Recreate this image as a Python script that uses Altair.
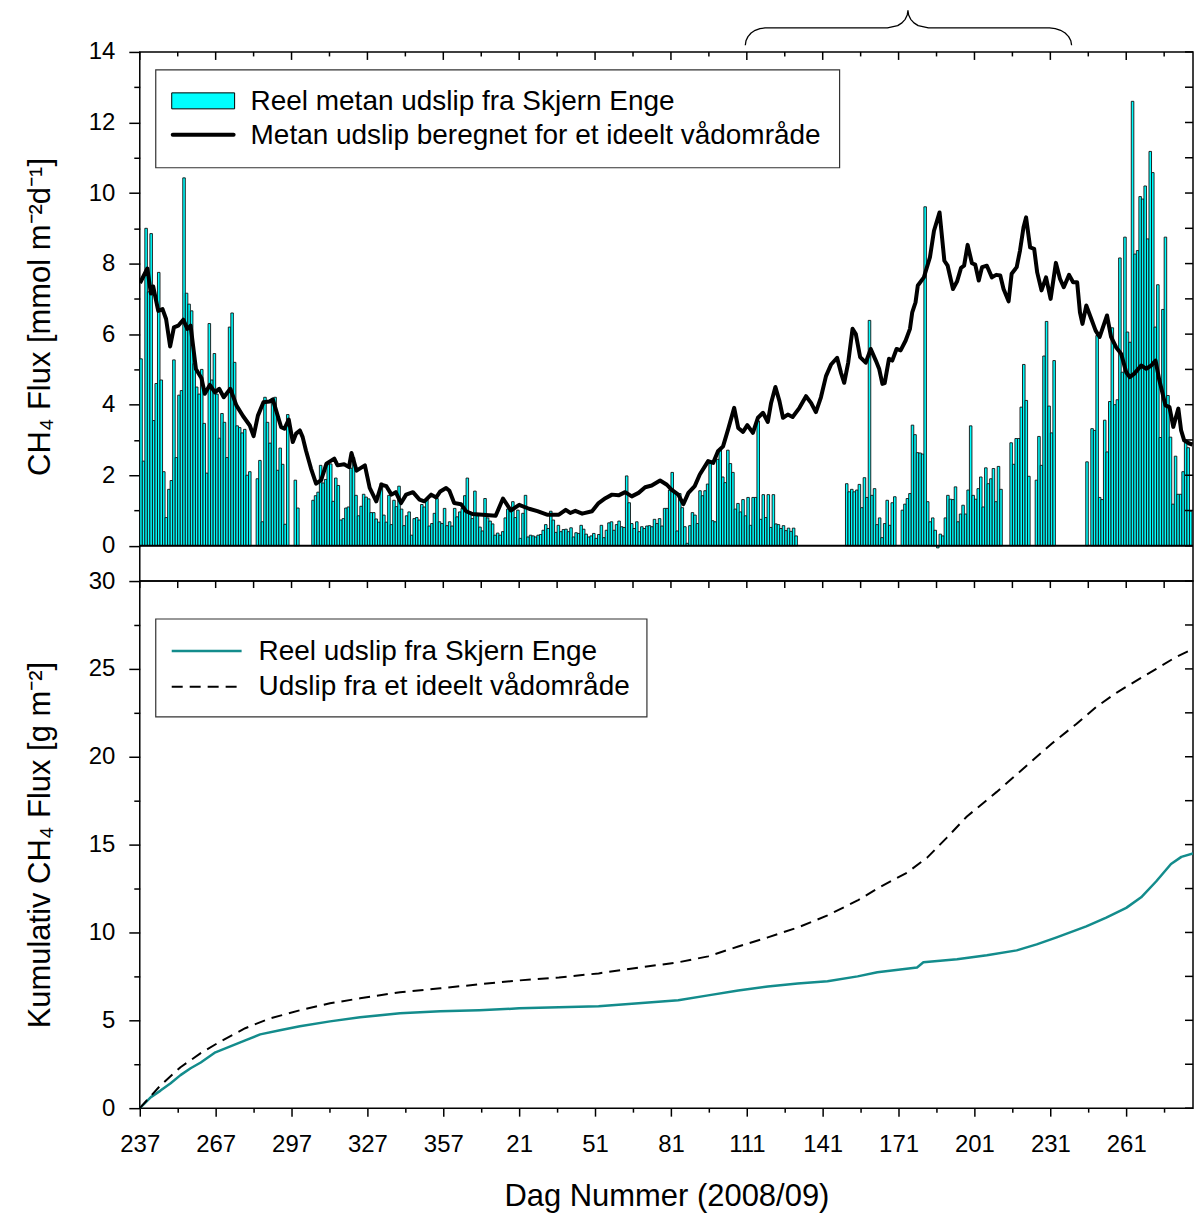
import altair as alt
import pandas as pd

FONT = "Liberation Sans"

# ---------------- data ----------------
# day index 0 = day 237 of 2008 ; 2008 is a leap year
x_tick_major = [0, 30, 60, 90, 120, 150, 180, 210, 240, 270, 300, 330, 360, 390]
x_tick_labels = ["237", "267", "297", "327", "357", "21", "51", "81", "111",
                 "141", "171", "201", "231", "261"]
x_tick_minor = [15, 45, 75, 105, 135, 165, 195, 225, 255, 285, 315, 345, 375, 405]

# daily measured CH4 flux (mmol m-2 d-1), contiguous runs of days
seg_start = [0, 46, 61, 68, 85, 163, 245, 279, 301, 344, 354, 374, 376]
seg_values = [
    [5.3, 2.4, 9.0, 7.2, 8.85, 3.55, 4.6, 7.75, 4.7, 2.1, 0.8, 1.6, 1.85, 5.27, 2.5,
     4.27, 4.4, 10.43, 7.16, 6.85, 6.66, 5.16, 4.5, 4.3, 5.0, 3.47, 2.06, 6.3, 4.7,
     5.45, 4.3, 3.05, 3.75, 3.5, 2.5, 6.2, 6.6, 5.2, 3.4, 3.35, 3.2, 3.3, 2.0, 2.1],
    [1.9, 2.42, 0.68, 4.21, 3.5, 2.91, 4.15, 4.21, 2.14, 2.77, 2.31, 0.61, 3.72],
    [1.86, 1.07],
    [1.29, 1.42, 1.52, 2.28, 1.78, 1.88, 2.3, 2.32, 1.26, 1.92, 1.71, 0.73, 0.77,
     1.07, 1.1, 2.2, 2.5],
    [1.43, 0.85, 1.12, 1.46, 1.38, 1.33, 0.94, 0.94, 0.76, 0.67, 1.78, 0.87, 0.67,
     1.43, 0.6, 1.29, 1.11, 1.69, 1.04, 0.57, 0.85, 0.96, 0.3, 0.77, 0.8, 0.73,
     1.17, 1.1, 1.31, 0.56, 0.63, 0.92, 1.34, 0.68, 0.63, 1.06, 0.57, 0.68, 0.56,
     1.06, 0.82, 0.96, 1.06, 1.42, 1.92, 0.96, 0.77, 1.55, 0.85, 0.53, 0.42, 1.34,
     0.79, 0.7, 0.62, 0.3, 0.36, 0.3, 0.4, 0.79, 1.04, 0.99, 1.25, 0.8, 1.01, 0.21,
     0.92, 1.43, 0.25, 0.3, 0.28, 0.25, 0.3, 0.32, 0.44, 0.6, 0.49, 0.98],
    [0.73, 0.38, 0.58, 0.4, 0.46, 0.47, 0.4, 0.51, 0.25, 0.37, 0.35, 0.58, 0.47,
     0.33, 0.25, 0.28, 0.35, 0.21, 0.32, 0.58, 0.23, 0.44, 0.65, 0.68, 0.44, 0.6,
     0.7, 0.54, 0.52, 1.98, 1.22, 0.63, 0.49, 0.68, 0.4, 0.54, 0.49, 0.56, 0.57,
     0.54, 0.75, 0.63, 0.77, 0.56, 1.06, 1.06, 1.58, 2.08, 1.53, 0.42, 1.48, 1.08,
     0.54, 0.07, 0.57, 0.94, 0.87, 0.63, 1.56, 1.42, 1.56, 1.75, 2.33, 0.71, 0.68,
     2.45, 2.75, 1.95, 1.79, 2.71, 2.33, 2.08, 1.04, 1.2, 0.96, 1.31, 0.85, 1.37,
     0.58, 1.37, 1.37, 3.54],
    [0.75, 1.45, 0.8, 1.45, 0.52, 1.45, 0.62, 0.6, 0.49, 0.57, 0.43, 0.5, 0.41,
     0.5, 0.28],
    [1.76, 1.53, 1.6, 1.53, 1.58, 1.74, 1.08, 1.93, 1.37, 6.39, 1.43, 1.62, 0.6,
     0.79, 0.23, 0.63, 1.29, 0.58, 1.22, 1.39],
    [1.01, 1.18, 1.34, 1.48, 3.42, 3.15, 2.64, 2.63, 2.6, 9.61, 1.25, 0.68, 0.79,
     0.44, -0.06, 0.33, 0.28, 0.79, 1.43, 1.32, 1.31, 1.67, 0.68, 0.9, 1.15, 0.9,
     1.58, 3.4, 1.43, 1.32, 1.62, 1.95, 1.1, 2.21, 1.76, 1.9, 2.19, 1.25, 2.25, 1.6],
    [2.92, 2.31, 3.04, 3.04, 3.93, 5.14, 4.12, 1.97],
    [1.86, 3.1, 2.28, 5.38, 6.36, 3.96, 3.2, 5.25],
    [2.38],
    [3.32, 3.27, 5.96, 1.37, 1.31, 3.56, 2.66, 4.09, 6.18, 4.0, 4.14, 8.16, 4.92,
     8.75, 6.06, 5.77, 12.6, 8.27, 8.37, 9.9, 9.83, 10.2, 8.7, 11.18, 10.58, 6.2,
     7.4, 3.07, 6.7, 8.75, 4.26, 3.08, 1.18, 2.54, 1.46, 1.46, 2.1, 2.94, 2.78, 0.98],
]

# modelled flux of an ideal wetland (mmol m-2 d-1)
ideal_day = [0.1, 3.0, 4.4, 5.3, 7.3, 9.0, 10.4, 12.0, 13.5, 15.2, 17.2, 18.8, 20.1,
             22.2, 24.4, 25.7, 27.7, 29.7, 31.4, 33.2, 35.8, 38.2, 40.8, 43.5, 45.0,
             46.7, 48.9, 51.3, 52.6, 54.1, 55.9, 57.2, 58.9, 60.5, 61.8, 63.3, 64.4,
             65.7, 67.7, 69.7, 71.7, 73.8, 76.9, 78.2, 80.8, 82.7, 83.7, 85.7, 89.0,
             90.9, 93.5, 95.5, 97.5, 99.5, 101.2, 103.3, 105.3, 108.0, 110.6, 112.5,
             115.2, 117.2, 118.8, 121.1, 122.4, 124.3, 127.0, 129.0, 131.5, 135.5,
             140.7, 143.6, 146.7, 150.0, 153.9, 157.2, 161.0, 165.7, 168.4, 170.2,
             172.2, 174.9, 178.8, 181.4, 184.1, 186.7, 189.3, 191.9, 194.5, 197.2,
             199.8, 202.4, 205.7, 208.4, 210.2, 212.9, 214.9, 216.9, 219.4, 221.4,
             224.7, 226.7, 228.6, 230.6, 232.6, 235.0, 236.6, 238.5, 240.2, 242.4,
             244.4, 246.4, 248.3, 249.6, 251.3, 252.9, 254.3, 256.2, 258.1, 260.8,
             263.4, 265.4, 267.3, 269.3, 271.3, 273.3, 275.7, 277.2, 278.5, 280.1,
             281.8, 283.1, 284.8, 287.0, 289.0, 291.0, 292.3, 293.6, 294.5, 296.2,
             297.5, 299.2, 300.8, 302.8, 304.5, 305.4, 306.7, 307.6, 310.0, 312.4,
             314.0, 316.2, 318.1, 319.4, 321.5, 323.1, 324.7, 325.9, 327.3, 329.0,
             330.3, 331.7, 333.0, 334.9, 336.9, 338.6, 340.2, 341.5, 343.5, 344.7,
             346.7, 348.0, 349.4, 350.4, 352.0, 353.6, 354.8, 356.5, 358.3, 360.1,
             362.2, 363.8, 365.3, 367.4, 369.0, 370.6, 371.7, 372.7, 374.2, 376.2,
             377.9, 379.5, 382.4, 384.0, 386.0, 388.0, 390.0, 391.4, 393.2, 395.9,
             397.9, 399.9, 401.6, 403.1, 405.5, 407.1, 408.6, 410.6, 411.7, 412.9,
             414.9, 416.2]
ideal_flux = [7.45, 7.86, 7.15, 7.35, 6.66, 6.71, 6.43, 5.65, 6.19, 6.24, 6.41, 6.15,
              6.24, 5.01, 4.75, 4.31, 4.56, 4.35, 4.45, 4.21, 4.45, 3.98, 3.68, 3.41,
              3.11, 3.69, 4.07, 4.09, 4.15, 3.79, 3.36, 3.32, 3.58, 2.94, 3.18, 3.27,
              3.08, 2.7, 2.19, 1.76, 1.86, 2.33, 2.47, 2.28, 2.31, 2.23, 2.63, 2.13,
              2.28, 1.64, 1.26, 1.73, 1.69, 1.45, 1.52, 1.21, 1.45, 1.52, 1.31, 1.26,
              1.45, 1.37, 1.54, 1.64, 1.56, 1.21, 1.18, 0.98, 0.9, 0.88, 0.85, 1.34,
              1.0, 1.16, 1.05, 0.98, 0.88, 0.88, 1.02, 0.93, 0.99, 0.91, 0.98, 1.21,
              1.35, 1.45, 1.43, 1.52, 1.4, 1.5, 1.66, 1.71, 1.85, 1.73, 1.59, 1.45,
              1.18, 1.5, 1.69, 2.02, 2.4, 2.35, 2.68, 2.82, 3.3, 3.91, 3.34, 3.23,
              3.42, 3.2, 3.63, 3.77, 3.51, 4.05, 4.5, 4.1, 3.63, 3.72, 3.65, 3.91,
              4.24, 4.05, 3.79, 4.21, 4.81, 5.14, 5.33, 4.91, 4.62, 5.2, 6.15, 6.0,
              5.35, 5.19, 5.58, 5.25, 5.02, 4.59, 4.61, 5.3, 5.25, 5.58, 5.54, 5.82,
              6.15, 6.62, 6.9, 7.38, 7.61, 8.18, 8.93, 9.45, 8.08, 7.94, 7.28, 7.49,
              7.88, 7.94, 8.53, 8.01, 7.97, 7.52, 7.9, 7.94, 7.61, 7.68, 7.66, 7.28,
              6.93, 7.71, 7.9, 8.37, 9.03, 9.31, 8.46, 8.42, 7.75, 7.24, 7.61, 7.0,
              8.02, 7.57, 7.33, 7.68, 7.47, 7.47, 6.62, 6.29, 6.81, 6.43, 6.1, 5.92,
              6.53, 5.92, 5.63, 5.44, 4.92, 4.78, 4.88, 5.11, 5.02, 5.11, 5.25, 4.69,
              3.98, 3.93, 3.37, 3.89, 3.27, 2.99, 2.9, 2.87]

# cumulative fluxes (g m-2)
cum_real_day = [0, 4.4, 8.2, 12.2, 16.1, 20.1, 24.1, 29.9, 35.8, 41.7, 47.6, 55.4,
                63.3, 75.2, 87.1, 102.9, 118.8, 134.2, 150.0, 165.7, 181.4, 197.2,
                212.9, 224.7, 236.6, 248.3, 260.1, 271.9, 283.8, 291.6, 307.3, 309.8,
                323.1, 334.9, 346.7, 354.6, 362.5, 374.2, 382.1, 390.0, 395.9, 401.8,
                407.7, 411.8, 416.4]
cum_real_val = [0, 0.63, 1.0, 1.42, 1.88, 2.27, 2.6, 3.18, 3.52, 3.86, 4.2, 4.43,
                4.66, 4.94, 5.17, 5.4, 5.51, 5.57, 5.68, 5.74, 5.8, 5.97, 6.14, 6.42,
                6.7, 6.93, 7.1, 7.22, 7.5, 7.73, 8.01, 8.3, 8.47, 8.7, 8.98, 9.32,
                9.72, 10.35, 10.85, 11.4, 12.0, 12.9, 13.9, 14.3, 14.5]
cum_ideal_day = [0, 8.2, 16.1, 24.1, 31.9, 41.7, 51.5, 63.3, 75.2, 87.1, 102.9,
                 118.8, 134.2, 150.0, 165.7, 181.4, 197.2, 212.9, 224.7, 236.6,
                 248.3, 260.1, 271.9, 283.8, 291.6, 303.4, 311.3, 319.1, 327.0,
                 338.8, 350.7, 360.5, 370.4, 378.2, 386.1, 393.9, 401.9, 409.7, 416.4]
cum_ideal_val = [0, 1.3, 2.33, 3.13, 3.8, 4.55, 5.11, 5.57, 5.97, 6.25, 6.6, 6.82,
                 7.05, 7.27, 7.44, 7.67, 8.0, 8.3, 8.64, 9.2, 9.72, 10.28, 10.97,
                 11.82, 12.5, 13.41, 14.26, 15.4, 16.6, 18.0, 19.5, 20.74, 21.88,
                 22.84, 23.64, 24.32, 25.0, 25.68, 26.14]

# curly brace annotation above the top panel (day index, flux units)
brace_day = [239.4, 239.67, 240.45, 241.68, 243.3, 245.18, 247.2,
             295.6, 299.65, 301.33, 302.6, 303.42, 303.7,
             303.98, 304.8, 306.07, 307.75, 311.8,
             359.7, 361.95, 364.05, 365.85, 367.23, 368.1, 368.4]
brace_val = [14.19, 14.317, 14.435, 14.536, 14.614, 14.663, 14.68,
             14.68, 14.746, 14.824, 14.925, 15.05, 15.17,
             15.05, 14.925, 14.824, 14.746, 14.68,
             14.68, 14.663, 14.614, 14.536, 14.435, 14.317, 14.19]

legend_top = ["Reel metan udslip fra Skjern Enge",
              "Metan udslip beregnet for et ideelt vådområde"]
legend_bottom = ["Reel udslip fra Skjern Enge", "Udslip fra et ideelt vådområde"]

y_top_ticks = list(range(0, 15))
y_bot_ticks = [0, 2.5, 5, 7.5, 10, 12.5, 15, 17.5, 20, 22.5, 25, 27.5, 30]

# ---------------- tables ----------------
rows = []
for s, vals in zip(seg_start, seg_values):
    for k, v in enumerate(vals):
        rows.append({"start": s + k, "end": s + k + 1, "flux": v})
df_bars = pd.DataFrame(rows)
df_ideal = pd.DataFrame({"day": ideal_day, "flux": ideal_flux})
df_cum_real = pd.DataFrame({"day": cum_real_day, "cum": cum_real_val})
df_cum_ideal = pd.DataFrame({"day": cum_ideal_day, "cum": cum_ideal_val})
df_brace = pd.DataFrame({"day": brace_day, "flux": brace_val, "o": list(range(len(brace_day)))})
df_xmaj = pd.DataFrame({"day": x_tick_major})
df_xmin = pd.DataFrame({"day": x_tick_minor})
df_ytop = pd.DataFrame({"flux": y_top_ticks})
df_ybot = pd.DataFrame({"cum": y_bot_ticks})
one = pd.DataFrame({"a": [0]})

# ---------------- layout ----------------
W, H1, H2 = 1055, 530, 528
X_MAX = 416.4
TEAL = "#138C8C"
CYAN = "#00FFFF"

xs = alt.Scale(domain=[0, X_MAX], nice=False, zero=False)
ys1 = alt.Scale(domain=[-1, 14], nice=False, zero=False)
ys2 = alt.Scale(domain=[0, 30], nice=False, zero=False)

common_axis = dict(grid=False, domain=False, tickColor="black", tickWidth=1.5,
                   labelFont=FONT, labelFontSize=24, labelColor="black",
                   titleFont=FONT, titleFontSize=31, titleFontWeight="normal",
                   titleColor="black")

y1_axis = alt.Axis(values=y_top_ticks,
                   tickSize={"condition": {"test": "datum.value % 2 === 0", "value": 11}, "value": 6},
                   labelExpr="datum.value % 2 === 0 ? datum.label : ''",
                   labelPadding=14,
                   title="CH₄ Flux [mmol m⁻²d⁻¹]",
                   titleX=-99, titleY=H1 / 2, titleAlign="center", titleBaseline="middle",
                   **common_axis)
y2_axis = alt.Axis(values=y_bot_ticks,
                   tickSize={"condition": {"test": "datum.value % 5 === 0", "value": 11}, "value": 6},
                   labelExpr="datum.value % 5 === 0 ? datum.label : ''",
                   labelPadding=14,
                   title="Kumulativ CH₄ Flux [g m⁻²]",
                   titleX=-99, titleY=H2 / 2, titleAlign="center", titleBaseline="middle",
                   **common_axis)

label_expr = ""
for p, lab in zip(x_tick_major, x_tick_labels):
    label_expr += f"datum.value === {p} ? '{lab}' : "
label_expr += "''"

x_axis = alt.Axis(values=sorted(x_tick_major + x_tick_minor),
                  tickSize={"condition": {"test": "datum.value % 30 === 0", "value": 8}, "value": 4},
                  labelExpr=label_expr, labelFlush=False, labelPadding=16,
                  title="Dag Nummer (2008/09)", titleY=89, titleBaseline="middle",
                  **common_axis)


def inner_ticks(scale_y, y_axis, field, df_y, major_len, minor_len):
    top_major = alt.Chart(df_xmaj).mark_rule(color="black", strokeWidth=1.5).encode(
        x=alt.X("day:Q", scale=xs, axis=None), y=alt.value(0), y2=alt.value(major_len))
    top_minor = alt.Chart(df_xmin).mark_rule(color="black", strokeWidth=1.5).encode(
        x=alt.X("day:Q", scale=xs, axis=None), y=alt.value(0), y2=alt.value(minor_len))
    right = alt.Chart(df_y).mark_rule(color="black", strokeWidth=1.5).encode(
        y=alt.Y(f"{field}:Q", scale=scale_y, axis=y_axis),
        x=alt.value(W), x2=alt.value(W - 8))
    return [top_major, top_minor, right]


# ---------------- top panel ----------------
bars = alt.Chart(df_bars).mark_rect(fill=CYAN, stroke="#111111", strokeWidth=0.9,
                                    clip=True).encode(
    x=alt.X("start:Q", scale=xs, axis=None), x2="end",
    y=alt.Y("flux:Q", scale=ys1, axis=y1_axis), y2=alt.datum(0))
zero_line = alt.Chart(pd.DataFrame({"flux": [0]})).mark_rule(color="black", strokeWidth=2).encode(
    y=alt.Y("flux:Q", scale=ys1, axis=y1_axis))
ideal_line = alt.Chart(df_ideal).mark_line(color="black", strokeWidth=4, clip=True,
                                           strokeJoin="round", strokeCap="butt").encode(
    x=alt.X("day:Q", scale=xs, axis=None), y=alt.Y("flux:Q", scale=ys1, axis=y1_axis))
brace = alt.Chart(df_brace).mark_line(color="black", strokeWidth=1.3, clip=False,
                                      strokeJoin="round").encode(
    x=alt.X("day:Q", scale=xs, axis=None), y=alt.Y("flux:Q", scale=ys1, axis=y1_axis),
    order="o:Q")

leg1_box = alt.Chart(one).mark_rect(fill="white", stroke="#333333", strokeWidth=1.2).encode(
    x=alt.value(16), x2=alt.value(701), y=alt.value(18), y2=alt.value(116))
leg1_sw = alt.Chart(one).mark_rect(fill=CYAN, stroke="black", strokeWidth=1).encode(
    x=alt.value(32), x2=alt.value(95), y=alt.value(41), y2=alt.value(57))
leg1_ln = alt.Chart(one).mark_rule(color="black", strokeWidth=4, strokeCap="round").encode(
    x=alt.value(33), x2=alt.value(94), y=alt.value(83))
leg1_t1 = alt.Chart(one).mark_text(align="left", baseline="middle", font=FONT,
                                   fontSize=28, color="black").encode(
    x=alt.value(111), y=alt.value(50), text=alt.value(legend_top[0]))
leg1_t2 = alt.Chart(one).mark_text(align="left", baseline="middle", font=FONT,
                                   fontSize=28, color="black").encode(
    x=alt.value(111), y=alt.value(84), text=alt.value(legend_top[1]))

top = alt.layer(bars, ideal_line, zero_line, brace,
                *inner_ticks(ys1, y1_axis, "flux", df_ytop, 8, 4.5),
                leg1_box, leg1_sw, leg1_ln, leg1_t1, leg1_t2).properties(width=W, height=H1)

# ---------------- bottom panel ----------------
cum_real = alt.Chart(df_cum_real).mark_line(color=TEAL, strokeWidth=2.5, clip=True,
                                            strokeJoin="round").encode(
    x=alt.X("day:Q", scale=xs, axis=x_axis), y=alt.Y("cum:Q", scale=ys2, axis=y2_axis))
cum_ideal = alt.Chart(df_cum_ideal).mark_line(color="black", strokeWidth=2, clip=True,
                                              strokeJoin="round",
                                              strokeDash=[11, 7]).encode(
    x=alt.X("day:Q", scale=xs, axis=x_axis), y=alt.Y("cum:Q", scale=ys2, axis=y2_axis))

bt = inner_ticks(ys2, y2_axis, "cum", df_ybot, 7, 7)
bt[0] = bt[0].encode(x=alt.X("day:Q", scale=xs, axis=x_axis))
bt[1] = bt[1].encode(x=alt.X("day:Q", scale=xs, axis=x_axis))

leg2_box = alt.Chart(one).mark_rect(fill="white", stroke="#333333", strokeWidth=1.2).encode(
    x=alt.value(16), x2=alt.value(508), y=alt.value(38), y2=alt.value(136))
leg2_l1 = alt.Chart(one).mark_rule(color=TEAL, strokeWidth=2.5).encode(
    x=alt.value(32), x2=alt.value(102), y=alt.value(70))
leg2_l2 = alt.Chart(one).mark_rule(color="black", strokeWidth=2, strokeDash=[11, 7]).encode(
    x=alt.value(32), x2=alt.value(102), y=alt.value(106))
leg2_t1 = alt.Chart(one).mark_text(align="left", baseline="middle", font=FONT,
                                   fontSize=28, color="black").encode(
    x=alt.value(119), y=alt.value(71), text=alt.value(legend_bottom[0]))
leg2_t2 = alt.Chart(one).mark_text(align="left", baseline="middle", font=FONT,
                                   fontSize=28, color="black").encode(
    x=alt.value(119), y=alt.value(106), text=alt.value(legend_bottom[1]))

bottom = alt.layer(cum_real, cum_ideal, *bt,
                   leg2_box, leg2_l1, leg2_l2, leg2_t1, leg2_t2).properties(width=W, height=H2)

chart = alt.vconcat(top, bottom, spacing=0, bounds="flush").properties(
    padding={"left": 16, "top": 0, "right": 0, "bottom": 0}
).configure_view(stroke="black", strokeWidth=1.5).configure_concat(spacing=0)

chart.save("out.html", embed_options={"renderer": "svg", "actions": False})
